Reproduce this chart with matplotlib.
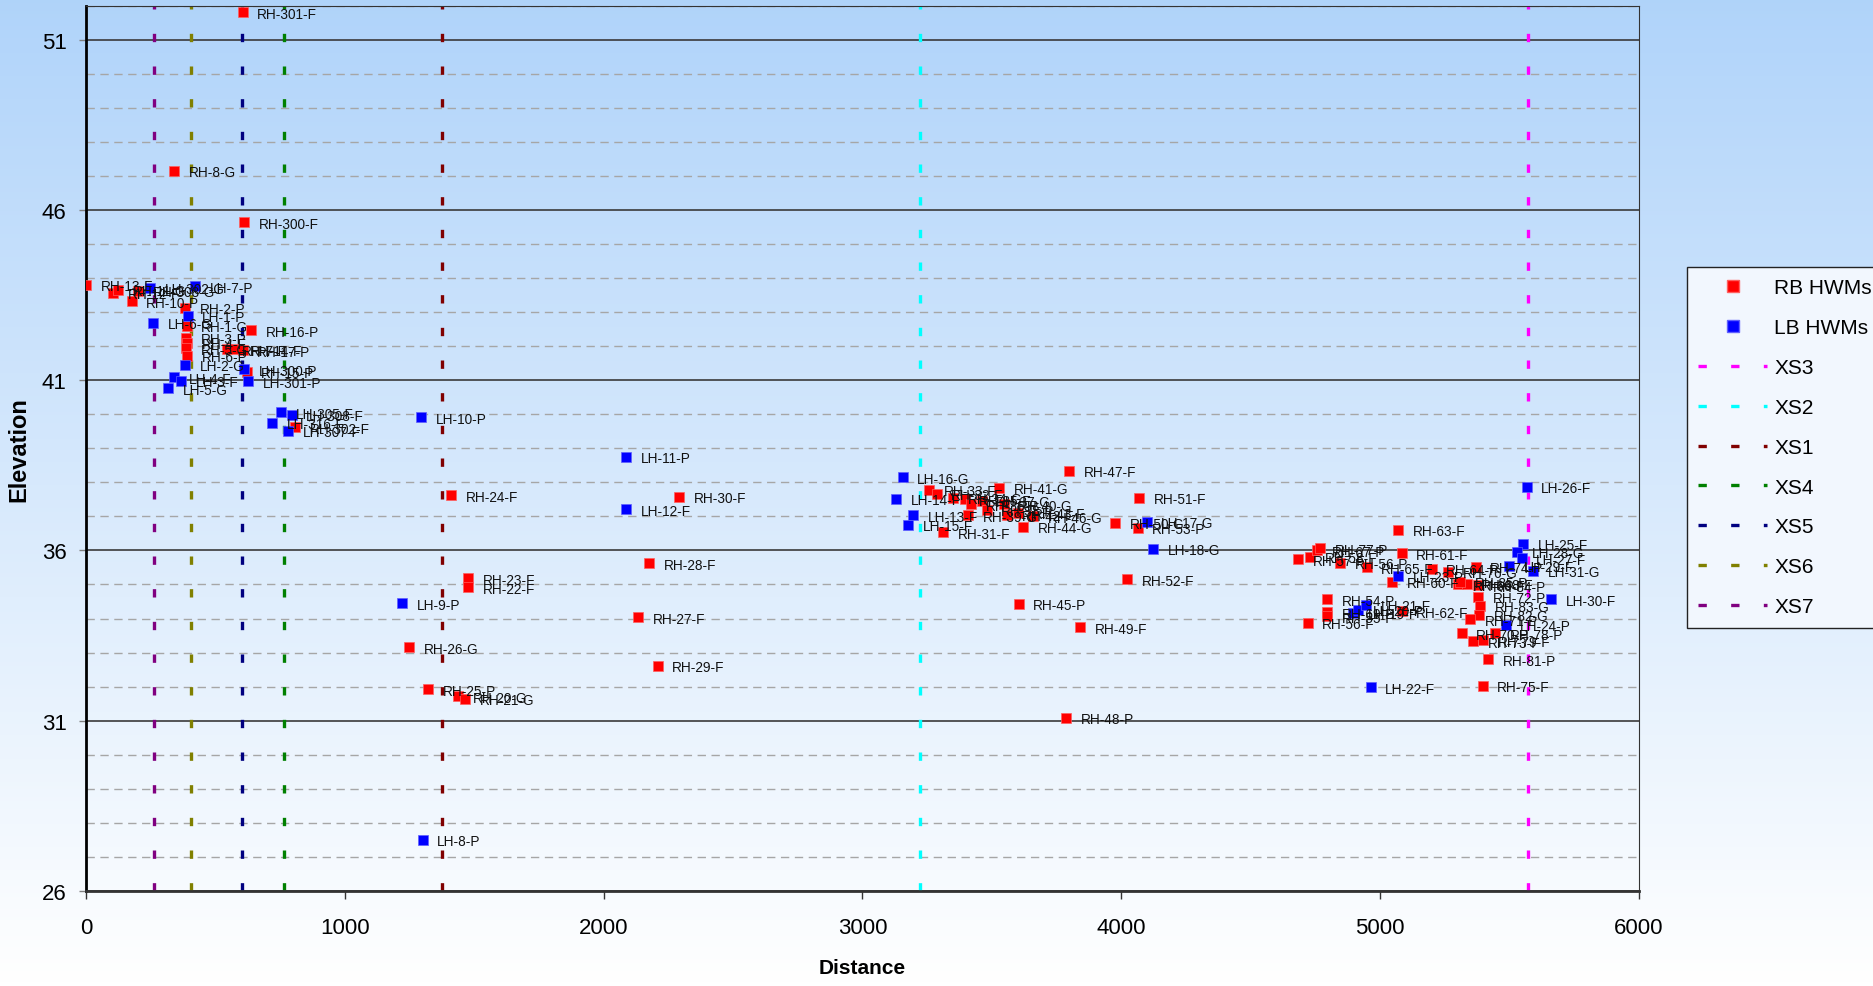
import numpy as np
import matplotlib
matplotlib.use("Agg")
import matplotlib.pyplot as plt
from matplotlib.lines import Line2D
from matplotlib.ticker import MultipleLocator

FONT = ["Liberation Sans", "DejaVu Sans"]

# ---------------------------------------------------------------------------
# Data
# ---------------------------------------------------------------------------
rb_x = [0, 105, 125, 176, 202, 341, 605, 612, 382, 389, 637, 388, 390, 388, 392,
        545, 575, 605, 621, 808,
        1410, 1477, 1477, 1249, 1323, 1438, 1464, 2291, 2175, 2134, 2209,
        3258, 3287, 3350, 3395, 3420, 3460, 3480, 3409, 3529, 3545, 3560, 3600,
        3659, 3621, 3312, 3799, 4069, 3976, 4063, 4022, 3603, 3840, 3786,
        5070, 5083, 4684, 4729, 4757, 4767, 4845, 4948, 5199, 5045, 4794, 4794,
        4794, 4720, 5083, 5264, 5302, 5334, 5369, 5309, 5379, 5379, 5386, 5383,
        5347, 5315, 5360, 5399, 5444, 5418, 5396]
rb_y = [43.80, 43.56, 43.66, 43.32, 43.63, 47.15, 51.80, 45.63, 43.13, 42.59,
        42.46, 42.25, 42.10, 41.93, 41.72, 41.91, 41.90, 41.88, 41.25, 39.62,
        37.62, 35.18, 34.92, 33.15, 31.92, 31.72, 31.65, 37.57, 35.62, 34.04, 32.62,
        37.78, 37.67, 37.55, 37.50, 37.35, 37.45, 37.20, 37.03, 37.83, 37.35, 37.05,
        37.10, 37.00, 36.69, 36.53, 38.33, 37.54, 36.81, 36.66, 35.15, 34.44, 33.74,
        31.09,
        36.61, 35.91, 35.74, 35.82, 36.00, 36.06, 35.63, 35.50, 35.46, 35.08, 34.57,
        34.18, 34.06, 33.87, 34.21, 35.37, 35.00, 35.02, 35.52, 35.08, 34.98, 34.64,
        34.37, 34.11, 33.98, 33.57, 33.33, 33.36, 33.57, 32.80, 32.03]
rb_lbl = ["RH-13-F", "RH-12-F", "RH-11-G", "RH-10-P", "RH-308-G", "RH-8-G",
          "RH-301-F", "RH-300-F", "RH-2-P", "RH-1-G", "RH-16-P", "RH-3-P", "RH-4-F",
          "RH-5-G", "RH-6-P", "RH-7-F", "RH-14-F", "RH-17-P", "RH-15-P", "RH-302-F",
          "RH-24-F", "RH-23-F", "RH-22-F", "RH-26-G", "RH-25-P", "RH-20-G", "RH-21-G",
          "RH-30-F", "RH-28-F", "RH-27-F", "RH-29-F",
          "RH-33-F", "RH-32-F", "RH-34-G", "RH-35-F", "RH-36-P", "RH-37-G", "RH-38-P",
          "RH-39-G", "RH-41-G", "RH-40-G", "RH-42-F", "RH-43-F", "RH-46-G", "RH-44-G",
          "RH-31-F", "RH-47-F", "RH-51-F", "RH-50-G", "RH-53-P", "RH-52-F", "RH-45-P",
          "RH-49-F", "RH-48-P",
          "RH-63-F", "RH-61-F", "RH-57-F", "RH-58-F", "RH-67-P", "RH-77-P", "RH-56-P",
          "RH-65-F", "RH-64-P", "RH-60-F", "RH-54-P", "RH-69-P", "RH-55-P", "RH-56-F",
          "RH-62-F", "RH-76-G", "RH-66-F", "RH-68-F", "RH-74-P", "RH-85-P", "RH-84-P",
          "RH-72-P", "RH-83-G", "RH-82-G", "RH-71-P", "RH-70-P", "RH-73-F", "RH-79-F",
          "RH-78-P", "RH-81-P", "RH-75-F"]

lb_x = [247, 421, 393, 260, 382, 612, 627, 340, 367, 318, 753, 795, 720, 782,
        1294, 2086, 2086, 1221, 1301,
        3155, 3129, 3196, 3177, 4098, 4124,
        5070, 4896, 4916, 4946, 4963, 5485, 5553, 5528, 5547, 5499, 5591, 5660, 5566]
lb_y = [43.71, 43.76, 42.88, 42.69, 41.45, 41.32, 40.96, 41.08, 40.98, 40.76,
        40.06, 39.99, 39.74, 39.52,
        39.91, 38.74, 37.21, 34.45, 27.50,
        38.15, 37.52, 37.03, 36.75, 36.84, 36.04,
        35.26, 34.16, 34.26, 34.40, 31.98, 33.82, 36.20, 35.96, 35.77, 35.54, 35.40,
        34.57, 37.87]
lb_lbl = ["LH-302-G", "LH-7-P", "LH-1-P", "LH-6-G", "LH-2-G", "LH-300-P", "LH-301-P",
          "LH-4-F", "LH-3-F", "LH-5-G", "LH-305-F", "LH-308-F", "LH-316-F", "LH-307-F",
          "LH-10-P", "LH-11-P", "LH-12-F", "LH-9-P", "LH-8-P",
          "LH-16-G", "LH-14-F", "LH-13-F", "LH-15-F", "LH-17-G", "LH-18-G",
          "LH-23-P", "LH-19-P", "LH-20-P", "LH-21-F", "LH-22-F", "LH-24-P", "LH-25-F",
          "LH-28-G", "LH-27-F", "LH-29-F", "LH-31-G", "LH-30-F", "LH-26-F"]

xs_names = ["XS3", "XS2", "XS1", "XS4", "XS5", "XS6", "XS7"]
xs_dist = [5571, 3222, 1375, 764, 601, 405, 263]
xs_colors = ["#ff00ff", "#00ffff", "#800000", "#008000", "#000080", "#808000", "#800080"]

y_lo, y_hi = 26, 52

# ---------------------------------------------------------------------------
# Figure with vertical gradient background
# ---------------------------------------------------------------------------
fig = plt.figure(figsize=(18.73, 9.87), dpi=100)
bg = fig.add_axes([0, 0, 1, 1], zorder=-10)
grad = np.linspace(0, 1, 256).reshape(-1, 1)
top_c = np.array([0.69, 0.83, 0.98])
bot_c = np.array([1.0, 1.0, 1.0])
img = top_c[None, None, :] * (1 - grad[:, :, None]) + bot_c[None, None, :] * grad[:, :, None]
bg.imshow(img, aspect="auto", extent=[0, 1, 0, 1])
bg.axis("off")

ax = fig.add_axes([86 / 1873, 1 - 892 / 987, (1639 - 86) / 1873, (892 - 6.5) / 987])
ax.set_facecolor("none")

# cross-section lines
for name, d, c in zip(xs_names, xs_dist, xs_colors):
    ax.plot([d, d], [y_lo, y_hi], color=c, lw=2.4, linestyle=(0, (2.5, 7.3)),
            zorder=2, label=name)

ax.scatter(rb_x, rb_y, marker="s", s=55, color="#ff0000", edgecolors="#ff6060",
           linewidths=0.5, zorder=3)
ax.scatter(lb_x, lb_y, marker="s", s=55, color="#0000ff", edgecolors="#6060ff",
           linewidths=0.5, zorder=3)

for xs, ys, ls in [(rb_x, rb_y, rb_lbl), (lb_x, lb_y, lb_lbl)]:
    for x, y, lbl in zip(xs, ys, ls):
        ax.annotate(lbl, (x, y), xytext=(10.5, -1), textcoords="offset points",
                    fontsize=9.8, va="center", ha="left", family=FONT,
                    color="#111111", zorder=4)

ax.set_xlim(0, 6000)
ax.set_ylim(y_lo, y_hi)
ax.xaxis.set_major_locator(MultipleLocator(1000))
ax.set_yticks([26, 31, 36, 41, 46, 51])
ax.yaxis.set_minor_locator(MultipleLocator(1))
ax.tick_params(axis="y", which="minor", length=0)
ax.tick_params(axis="y", which="major", length=5, width=1, color="#808080", pad=9,
               labelsize=16)
ax.tick_params(axis="x", which="major", length=6, width=1, color="#333333", pad=13,
               labelsize=16)
for t in ax.get_xticklabels() + ax.get_yticklabels():
    t.set_family(FONT)

ax.grid(True, axis="y", which="minor", color="#a6a6a6", lw=1, linestyle=(0, (6, 4)),
        zorder=0)
ax.grid(True, axis="y", which="major", color="#3a3a3a", lw=1.2, linestyle="-", zorder=0)
ax.set_axisbelow(True)

ax.spines["left"].set_linewidth(2.0)
ax.spines["left"].set_color("black")
ax.spines["bottom"].set_linewidth(2.0)
ax.spines["bottom"].set_color("#333333")
ax.spines["top"].set_color("#333333")
ax.spines["right"].set_color("#333333")

ax.set_xlabel("Distance", fontsize=15, fontweight="bold", family=FONT, labelpad=14)
ax.set_ylabel("Elevation", fontsize=17, fontweight="bold", family=FONT, labelpad=8)

# legend
handles = [Line2D([], [], marker="s", ms=8, color="#ff0000", lw=0, markeredgecolor="#ff6060"),
           Line2D([], [], marker="s", ms=8, color="#0000ff", lw=0, markeredgecolor="#6060ff")]
for name, c in zip(xs_names, xs_colors):
    handles.append(Line2D([], [], color=c, lw=2.4, linestyle=(0, (2.5, 7.3))))
labels = ["RB HWMs", "LB HWMs"] + xs_names
leg = fig.legend(handles, labels, loc="upper left", bbox_to_anchor=(1687 / 1873, 1 - 268 / 987),
                 prop={"family": FONT, "size": 15}, handlelength=3.3, handletextpad=0.35,
                 labelspacing=1.0, borderpad=0.55, fancybox=False, framealpha=1,
                 facecolor="#f2f7fe", edgecolor="#222222", borderaxespad=0)
leg.get_frame().set_linewidth(1.0)

fig.savefig("out.png", dpi=100)
